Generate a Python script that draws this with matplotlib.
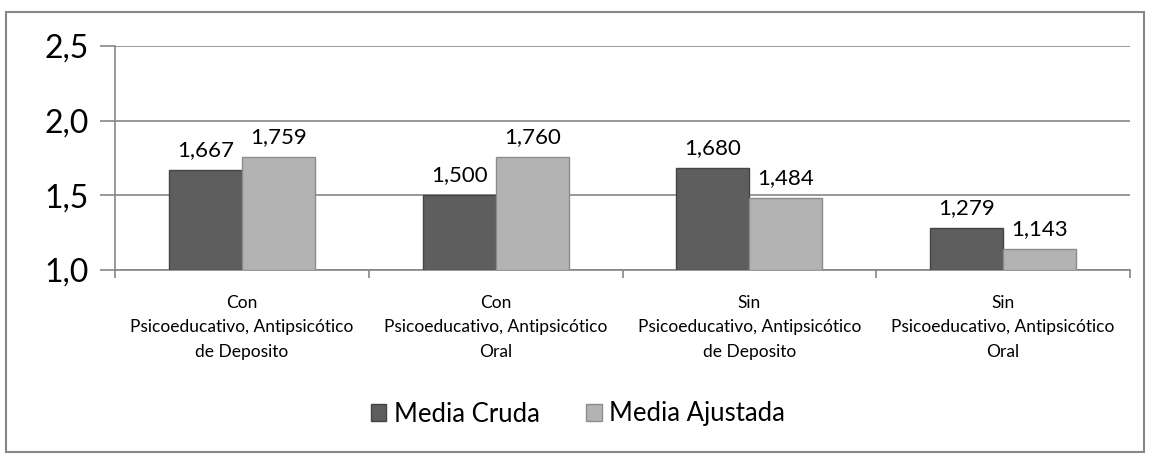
import numpy as np
import matplotlib.pyplot as plt
from matplotlib.patches import Patch, Rectangle

plt.rcParams['font.family'] = ['Lato', 'DejaVu Sans']

categories = [
    "Con\nPsicoeducativo, Antipsicótico\nde Deposito",
    "Con\nPsicoeducativo, Antipsicótico\nOral",
    "Sin\nPsicoeducativo, Antipsicótico\nde Deposito",
    "Sin\nPsicoeducativo, Antipsicótico\nOral",
]
media_cruda = [1.667, 1.500, 1.680, 1.279]
media_ajustada = [1.759, 1.760, 1.484, 1.143]
y_ticks = [1.0, 1.5, 2.0, 2.5]

fig = plt.figure(figsize=(11.5, 4.57), dpi=100)
ax = fig.add_axes([115 / 1150, 1 - 270 / 457, (1130 - 115) / 1150, (270 - 46) / 457])

# outer frame of the chart area
fig.patches.append(Rectangle((6 / 1150, 5 / 457), 1138 / 1150, 440 / 457,
                             transform=fig.transFigure, fill=False,
                             edgecolor='#868686', linewidth=1.5))

x = np.arange(len(categories))
w = 0.288
dark = '#5e5e5e'
light = '#b3b3b3'
b1 = ax.bar(x - w / 2, np.array(media_cruda) - 1.0, w, bottom=1.0, color=dark,
            edgecolor='#444444', linewidth=1, zorder=3)
b2 = ax.bar(x + w / 2, np.array(media_ajustada) - 1.0, w, bottom=1.0, color=light,
            edgecolor='#8c8c8c', linewidth=1, zorder=3)

for bars, vals in ((b1, media_cruda), (b2, media_ajustada)):
    for r, v in zip(bars, vals):
        ax.annotate(f"{v:.3f}".replace('.', ','), (r.get_x() + r.get_width() / 2, v),
                    xytext=(0, 10), textcoords='offset points',
                    ha='center', va='baseline', fontsize=16)

ax.set_xlim(-0.5, len(categories) - 0.5)
ax.set_ylim(1.0, 2.5)
ax.set_yticks(y_ticks)
ax.set_yticklabels([f"{t:.1f}".replace('.', ',') for t in y_ticks], fontsize=23)
ax.yaxis.grid(True, color='#868686', linewidth=1.2, zorder=0)
ax.set_axisbelow(True)

ax.set_xticks(np.arange(len(categories) + 1) - 0.5)
ax.set_xticklabels([])
ax.tick_params(axis='x', length=6, color='#868686', width=1.2)
ax.tick_params(axis='y', length=11, color='#868686', width=1.2, pad=8)
for i, c in enumerate(categories):
    ax.annotate(c, (i, 1.0), xytext=(0, -18), textcoords='offset points',
                ha='center', va='top', fontsize=12.5, linespacing=1.65)

for s in ['top', 'right']:
    ax.spines[s].set_visible(False)
for s in ['left', 'bottom']:
    ax.spines[s].set_color('#868686')
    ax.spines[s].set_linewidth(1.2)

handles = [Patch(facecolor=dark, edgecolor='#444444', label='Media Cruda'),
           Patch(facecolor=light, edgecolor='#8c8c8c', label='Media Ajustada')]
fig.legend(handles=handles, loc='center', bbox_to_anchor=(578 / 1150, 1 - 414 / 457),
           ncol=2, frameon=False, fontsize=18.5, handlelength=0.6, handleheight=0.6,
           handletextpad=0.3, columnspacing=1.8)

fig.savefig('out.png', dpi=100)
